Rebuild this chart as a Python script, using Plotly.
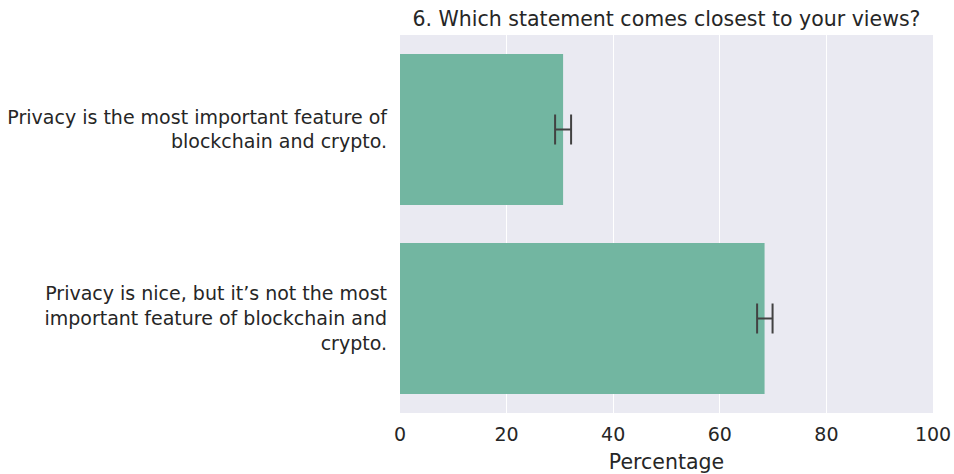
import plotly.graph_objects as go

categories = [
    "Privacy is the most important feature of<br>blockchain and crypto.",
    "Privacy is nice, but it’s not the most<br>important feature of blockchain and<br>crypto.",
]
values = [30.6, 68.4]
err_plus = [1.5, 1.5]
err_minus = [1.5, 1.4]
x_ticks = [0, 20, 40, 60, 80, 100]
title = "6. Which statement comes closest to your views?"
x_title = "Percentage"

FONT = "DejaVu Sans"
TXT = "#262626"

fig = go.Figure(go.Bar(
    x=values,
    y=categories,
    orientation="h",
    width=0.8,
    marker=dict(color="#72b6a1", line=dict(width=0)),
    error_x=dict(type="data", symmetric=False, array=err_plus, arrayminus=err_minus,
                 color="#424242", thickness=2, width=15),
))

fig.update_layout(
    width=954, height=474,
    margin=dict(l=400, r=21, t=35, b=61, autoexpand=False),
    paper_bgcolor="white",
    plot_bgcolor="#eaeaf2",
    font=dict(family=FONT, size=19, color=TXT),
    showlegend=False,
    title=dict(text=title, x=(400 + 933) / 2 / 954, xanchor="center", y=1 - 19 / 474, yanchor="middle",
               font=dict(family=FONT, size=20.5, color=TXT)),
    bargap=0.2,
)
fig.update_xaxes(
    range=[0, 100], tickvals=x_ticks, ticktext=[str(t) for t in x_ticks],
    showgrid=True, gridcolor="white", gridwidth=1.3, zeroline=False,
    showline=False, ticks="", ticklabelstandoff=8, tickfont=dict(size=19, color=TXT),
    title=dict(text=x_title, font=dict(size=20.5, color=TXT), standoff=10),
)
fig.update_yaxes(
    autorange="reversed", showgrid=False, zeroline=False, showline=False,
    ticks="", ticklabelstandoff=12, tickfont=dict(size=19, color=TXT),
)

fig.write_html("out.html", config={"displayModeBar": False},
               post_script="document.body.style.margin='0';document.body.style.overflow='hidden';")
